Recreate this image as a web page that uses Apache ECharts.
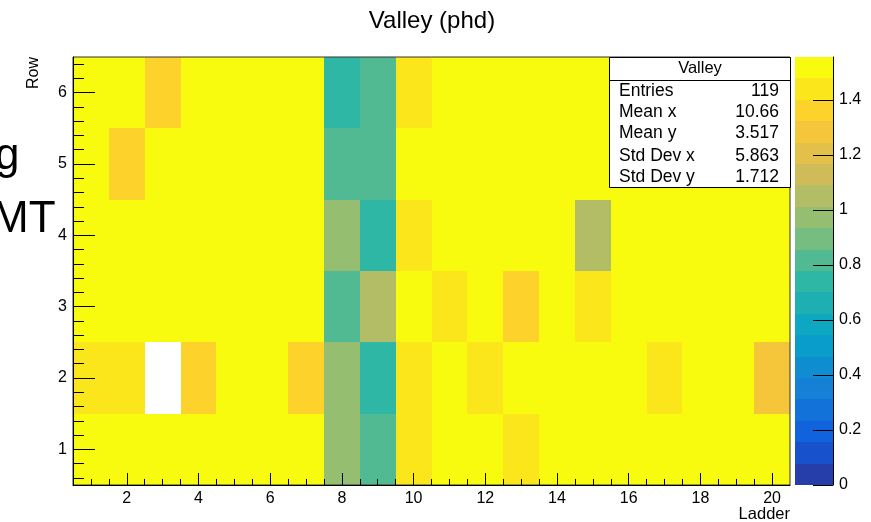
<!DOCTYPE html>
<html>
<head>
<meta charset="utf-8">
<title>Valley (phd)</title>
<script src="https://cdn.jsdelivr.net/npm/echarts@6/dist/echarts.min.js"></script>
<style>
  html, body { margin: 0; padding: 0; background: #ffffff; }
  #chart { width: 871px; height: 522px; }
</style>
</head>
<body>
<div id="chart"></div>
<script>
// Bin axes: ladders along x, rows along y (bin centres)
const ladders = [1, 2, 3, 4, 5, 6, 7, 8, 9, 10, 11, 12, 13, 14, 15, 16, 17, 18, 19, 20];
const rows = [1, 2, 3, 4, 5, 6];

// Valley (phd) per ladder, one array per row; null = empty bin
const valleyRow1 = [1.52, 1.52, 1.52, 1.52, 1.52, 1.52, 1.52, 0.97, 0.82, 1.44, 1.52, 1.52, 1.44, 1.52, 1.52, 1.52, 1.52, 1.52, 1.52, 1.52];
const valleyRow2 = [1.44, 1.44, null, 1.36, 1.52, 1.52, 1.36, 0.97, 0.74, 1.44, 1.52, 1.44, 1.52, 1.52, 1.52, 1.52, 1.44, 1.52, 1.52, 1.28];
const valleyRow3 = [1.52, 1.52, 1.52, 1.52, 1.52, 1.52, 1.52, 0.82, 1.05, 1.52, 1.44, 1.52, 1.36, 1.52, 1.44, 1.52, 1.52, 1.52, 1.52, 1.52];
const valleyRow4 = [1.52, 1.52, 1.52, 1.52, 1.52, 1.52, 1.52, 0.97, 0.74, 1.44, 1.52, 1.52, 1.52, 1.52, 1.05, 1.52, 1.52, 1.52, 1.52, 1.52];
const valleyRow5 = [1.52, 1.36, 1.52, 1.52, 1.52, 1.52, 1.52, 0.82, 0.82, 1.52, 1.52, 1.52, 1.52, 1.52, 1.52, 1.52, 1.52, 1.52, 1.52, 1.52];
const valleyRow6 = [1.52, 1.52, 1.36, 1.52, 1.52, 1.52, 1.52, 0.74, 0.82, 1.44, 1.52, 1.52, 1.52, 1.52, 1.52, 1.52, 1.52, 1.52, 1.52, 1.52];
const valleyRows = [valleyRow1, valleyRow2, valleyRow3, valleyRow4, valleyRow5, valleyRow6];

// Colour scale range and contour count
const zMin = 0;
const zMax = 1.556;
const nContours = 20;

// Tick labels
const xTicks = [2, 4, 6, 8, 10, 12, 14, 16, 18, 20];
const yTicks = [1, 2, 3, 4, 5, 6];
const zTicks = [0, 0.2, 0.4, 0.6, 0.8, 1, 1.2, 1.4];

// Statistics box
const statsTitle = 'Valley';
const statsLabels = ['Entries', 'Mean x', 'Mean y', 'Std Dev x', 'Std Dev y'];
const statsValues = ['119', '10.66', '3.517', '5.863', '1.712'];

// "Bird" palette: gradient stops (fraction, r, g, b)
const birdStops = [0.0, 0.125, 0.25, 0.375, 0.5, 0.625, 0.75, 0.875, 1.0];
const birdRed   = [0.2082, 0.0592, 0.0780, 0.0232, 0.1802, 0.5301, 0.8186, 0.9956, 0.9764];
const birdGreen = [0.1664, 0.3599, 0.5041, 0.6419, 0.7178, 0.7492, 0.7328, 0.7862, 0.9832];
const birdBlue  = [0.5293, 0.8684, 0.8385, 0.7914, 0.6425, 0.4662, 0.3499, 0.1968, 0.0539];

function birdColor(f) {
  f = Math.max(0, Math.min(1, f));
  let i = 0;
  while (i < birdStops.length - 2 && f > birdStops[i + 1]) i++;
  const t = (f - birdStops[i]) / (birdStops[i + 1] - birdStops[i]);
  const mix = (a) => Math.round(255 * (a[i] + (a[i + 1] - a[i]) * t));
  return 'rgb(' + mix(birdRed) + ',' + mix(birdGreen) + ',' + mix(birdBlue) + ')';
}

// One colour per contour band
const bandWidth = (zMax - zMin) / nContours;
const pieces = [];
const bandData = [];
for (let k = 0; k < nContours; k++) {
  const lo = zMin + k * bandWidth;
  const hi = zMin + (k + 1) * bandWidth;
  const color = birdColor((k + 0.99) / nContours);
  pieces.push({ gte: lo, lt: hi, color: color });
  bandData.push([lo, hi, (lo + hi) / 2]);
}
pieces[nContours - 1].lte = zMax;
delete pieces[nContours - 1].lt;

// Cell table [ladder, row, value]
const cells = [];
rows.forEach((r, ri) => {
  ladders.forEach((l, li) => {
    const v = valleyRows[ri][li];
    if (v !== null && v !== undefined) cells.push([l, r, v]);
  });
});

const font = '"Liberation Sans", Arial, Helvetica, sans-serif';

// Pixel-snapped rectangle between two data corners
function snappedRect(api, a, b) {
  const p0 = api.coord(a);
  const p1 = api.coord(b);
  const x0 = Math.round(Math.min(p0[0], p1[0])), x1 = Math.round(Math.max(p0[0], p1[0]));
  const y0 = Math.round(Math.min(p0[1], p1[1])), y1 = Math.round(Math.max(p0[1], p1[1]));
  return {
    type: 'rect',
    shape: { x: x0, y: y0, width: x1 - x0, height: y1 - y0 },
    style: { fill: api.visual('color') }
  };
}

const chart = echarts.init(document.getElementById('chart'), null, { renderer: 'canvas' });

const statsX0 = 609, statsX1 = 790, statsY0 = 57, statsY1 = 187;
const statsRowY = [91, 112, 133, 156, 177];
const statsGraphics = [
  { type: 'rect', shape: { x: statsX0 + 0.5, y: statsY0 + 0.5, width: statsX1 - statsX0, height: statsY1 - statsY0 },
    style: { fill: '#ffffff', stroke: '#000000', lineWidth: 1 }, z: 100 },
  { type: 'line', shape: { x1: statsX0, y1: 80.5, x2: statsX1, y2: 80.5 },
    style: { stroke: '#000000', lineWidth: 1 }, z: 101 },
  { type: 'text', x: 700, y: 68, z: 101,
    style: { text: statsTitle, font: '16.5px ' + font, fill: '#000', textAlign: 'center', textVerticalAlign: 'middle' } }
];
statsLabels.forEach((lab, i) => {
  statsGraphics.push({ type: 'text', x: 619, y: statsRowY[i], z: 101,
    style: { text: lab, font: '17.5px ' + font, fill: '#000', textAlign: 'left', textVerticalAlign: 'middle' } });
  statsGraphics.push({ type: 'text', x: 779, y: statsRowY[i], z: 101,
    style: { text: statsValues[i], font: '17.5px ' + font, fill: '#000', textAlign: 'right', textVerticalAlign: 'middle' } });
});

const option = {
  backgroundColor: '#ffffff',
  animation: false,
  grid: [
    { left: 73, top: 57, width: 717, height: 428, show: true, borderColor: '#333', borderWidth: 1,
      backgroundColor: 'transparent', z: 3 },
    { left: 795, top: 57, width: 38, height: 428, show: false }
  ],
  visualMap: {
    type: 'piecewise',
    show: false,
    dimension: 2,
    seriesIndex: [0, 1],
    pieces: pieces
  },
  xAxis: [
    {
      type: 'value', gridIndex: 0, min: 0.5, max: 20.5, splitNumber: 10, z: 5,
      axisLine: { show: true, onZero: false, lineStyle: { color: '#000', width: 1 } },
      axisTick: { show: true, inside: true, length: 12, customValues: xTicks, lineStyle: { color: '#000' } },
      minorTick: { show: true, splitNumber: 4, length: 6, lineStyle: { color: '#000' } },
      axisLabel: { customValues: xTicks, margin: 6, fontSize: 16, fontFamily: font, color: '#000' },
      splitLine: { show: false }
    },
    { type: 'value', gridIndex: 1, min: 0, max: 1, show: false }
  ],
  yAxis: [
    {
      type: 'value', gridIndex: 0, min: 0.5, max: 6.5, splitNumber: 6, z: 5,
      axisLine: { show: true, onZero: false, lineStyle: { color: '#000', width: 1 } },
      axisTick: { show: true, inside: true, length: 22, customValues: yTicks, lineStyle: { color: '#000' } },
      minorTick: { show: true, splitNumber: 5, length: 11, lineStyle: { color: '#000' } },
      axisLabel: { customValues: yTicks, margin: 6, fontSize: 16, fontFamily: font, color: '#000' },
      splitLine: { show: false }
    },
    {
      type: 'value', gridIndex: 1, position: 'right', min: zMin, max: zMax, z: 5,
      axisLine: { show: true, onZero: false, lineStyle: { color: '#000', width: 1 } },
      axisTick: { show: true, inside: true, length: 20, customValues: zTicks, lineStyle: { color: '#000' } },
      axisLabel: { customValues: zTicks, margin: 6, fontSize: 16, fontFamily: font, color: '#000' },
      splitLine: { show: false }
    }
  ],
  series: [
    {
      name: 'Valley',
      type: 'custom',
      coordinateSystem: 'cartesian2d',
      xAxisIndex: 0, yAxisIndex: 0,
      z: 1,
      encode: { x: 0, y: 1 },
      data: cells,
      renderItem: function (params, api) {
        const x = api.value(0), y = api.value(1);
        return snappedRect(api, [x - 0.5, y + 0.5], [x + 0.5, y - 0.5]);
      }
    },
    {
      name: 'palette',
      type: 'custom',
      coordinateSystem: 'cartesian2d',
      xAxisIndex: 1, yAxisIndex: 1,
      z: 1,
      encode: { y: [0, 1] },
      data: bandData,
      renderItem: function (params, api) {
        return snappedRect(api, [0, api.value(1)], [1, api.value(0)]);
      }
    }
  ],
  graphic: [
    { type: 'text', x: 432, y: 21, z: 50,
      style: { text: 'Valley (phd)', font: '24px ' + font, fill: '#000', textAlign: 'center', textVerticalAlign: 'middle' } },
    { type: 'text', x: 790, y: 514, z: 50,
      style: { text: 'Ladder', font: '16.5px ' + font, fill: '#000', textAlign: 'right', textVerticalAlign: 'middle' } },
    { type: 'text', x: 34, y: 57, rotation: Math.PI / 2, z: 50,
      style: { text: 'Row', font: '16px ' + font, fill: '#000', textAlign: 'right', textVerticalAlign: 'middle' } },
    { type: 'text', x: -5, y: 135, z: 50,
      style: { text: 'g', font: '44px ' + font, fill: '#000', textAlign: 'left', textVerticalAlign: 'top' } },
    { type: 'text', x: -8, y: 198, z: 50,
      style: { text: 'MT', font: '44px ' + font, fill: '#000', textAlign: 'left', textVerticalAlign: 'top' } }
  ].concat(statsGraphics)
};

chart.setOption(option);
</script>
</body>
</html>
